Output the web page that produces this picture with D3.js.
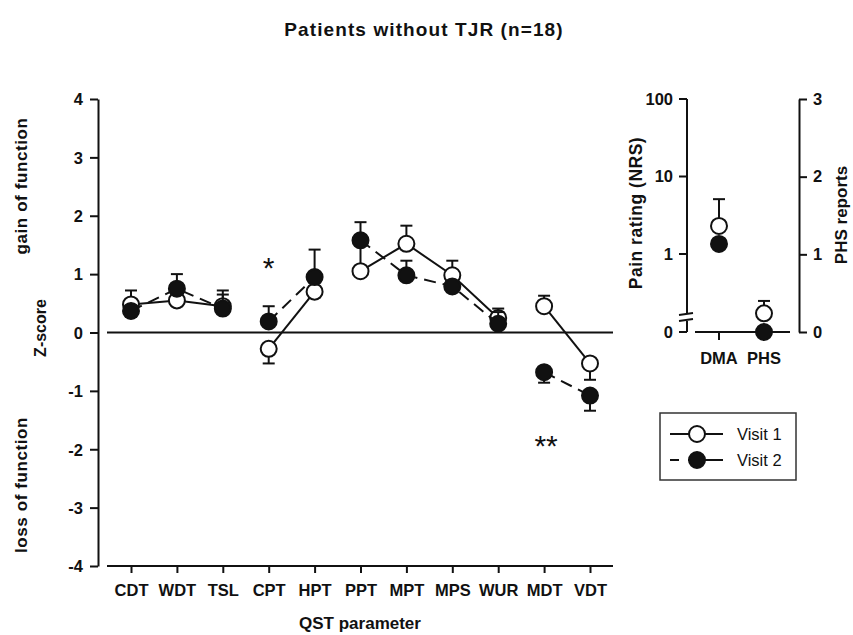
<!DOCTYPE html>
<html>
<head>
<meta charset="utf-8">
<script src="https://cdn.jsdelivr.net/npm/d3@7"></script>
<style>
  body { margin: 0; background: #fff; }
  text { font-family: "Liberation Sans", Arial, sans-serif; font-weight: bold; fill: #111; }
  .axis path, .axis line { stroke: #111; stroke-width: 2; }
  .axis text { font-size: 16.5px; }
</style>
</head>
<body>
<div id="chart"></div>
<script>
// QST z-scores
const categories = ["CDT", "WDT", "TSL", "CPT", "HPT", "PPT", "MPT", "MPS", "WUR", "MDT", "VDT"];
const lineGroup = [0, 0, 0, 1, 1, 2, 2, 2, 2, 3, 3];
const visit1 = [0.48, 0.55, 0.45, -0.28, 0.70, 1.05, 1.52, 0.98, 0.25, 0.45, -0.53];
const visit1Err = [0.24, -0.1, 0.27, -0.25, -0.1, 0.5, 0.31, 0.25, 0.16, 0.18, -0.28];
const visit2 = [0.37, 0.75, 0.41, 0.19, 0.95, 1.58, 0.98, 0.79, 0.15, -0.68, -1.08];
const visit2Err = [-0.1, 0.25, 0.24, 0.26, 0.47, 0.31, 0.25, -0.1, 0.2, -0.18, -0.26];
const zTicks = [4, 3, 2, 1, 0, -1, -2, -3, -4];

// right panel
const sideCats = ["DMA", "PHS"];
const painV1 = 2.3, painV1Err = 2.8, painV2 = 1.35;
const phsV1 = 0.24, phsV1Err = 0.16, phsV2 = 0;
const painTicks = [100, 10, 1];
const phsTicks = [0, 1, 2, 3];

const width = 853, height = 635;
const svg = d3.select("#chart").append("svg")
  .attr("width", width).attr("height", height);

svg.append("text").attr("x", 424).attr("y", 36)
  .attr("text-anchor", "middle").style("font-size", "19px").style("letter-spacing", "1.1px")
  .text("Patients without TJR (n=18)");

const x = d3.scalePoint().domain(categories).range([131, 590]);
const y = d3.scaleLinear().domain([-4, 4]).range([566, 99]);

// y axis
svg.append("g").attr("class", "axis")
  .attr("transform", "translate(98,0)")
  .call(d3.axisLeft(y).tickValues(zTicks).tickFormat(d => String(d))
    .tickSize(8).tickSizeOuter(0).tickPadding(7))
  .call(g => g.selectAll("text").attr("dy", "0.35em"));

// x axis
svg.append("line").attr("x1", 107).attr("x2", 613)
  .attr("y1", y(-4)).attr("y2", y(-4)).attr("stroke", "#111").attr("stroke-width", 2);
svg.append("g").attr("class", "axis")
  .attr("transform", `translate(0,${y(-4)})`)
  .call(d3.axisBottom(x).tickSize(7).tickPadding(11))
  .call(g => g.select(".domain").remove());

// zero line
svg.append("line").attr("x1", 107).attr("x2", 613)
  .attr("y1", y(0)).attr("y2", y(0)).attr("stroke", "#111").attr("stroke-width", 2);

svg.append("text").attr("x", 360).attr("y", 629).attr("text-anchor", "middle")
  .style("font-size", "17px").text("QST parameter");

const yLabel = (txt, cx, cy, size, ls) => svg.append("text")
  .attr("transform", `translate(${cx},${cy}) rotate(-90)`)
  .attr("text-anchor", "middle").style("font-size", size)
  .style("letter-spacing", ls || "0px").text(txt);
yLabel("gain of function", 27, 186, "17px", "0.6px");
yLabel("Z-score", 46, 328, "16px");
yLabel("loss of function", 27, 485, "17px", "0.6px");

function series(vals, errs, dashed) {
  const pts = categories.map((c, i) => ({ c, v: vals[i], e: errs[i], g: lineGroup[i] }));
  const g = svg.append("g");
  const line = d3.line().x(d => x(d.c)).y(d => y(d.v));
  d3.groups(pts, d => d.g).forEach(([, arr]) => {
    g.append("path").datum(arr).attr("d", line).attr("fill", "none")
      .attr("stroke", "#111").attr("stroke-width", 2)
      .attr("stroke-dasharray", dashed ? "12,7" : null);
  });
  g.selectAll(".eb").data(pts).join("line")
    .attr("x1", d => x(d.c)).attr("x2", d => x(d.c))
    .attr("y1", d => y(d.v)).attr("y2", d => y(d.v + d.e))
    .attr("stroke", "#111").attr("stroke-width", 2);
  g.selectAll(".cap").data(pts).join("line")
    .attr("x1", d => x(d.c) - 6).attr("x2", d => x(d.c) + 6)
    .attr("y1", d => y(d.v + d.e)).attr("y2", d => y(d.v + d.e))
    .attr("stroke", "#111").attr("stroke-width", 2);
  return { g, pts };
}
const s1 = series(visit1, visit1Err, false);
const s2 = series(visit2, visit2Err, true);
s1.g.selectAll("circle").data(s1.pts).join("circle")
  .attr("cx", d => x(d.c)).attr("cy", d => y(d.v)).attr("r", 8)
  .attr("fill", "#fff").attr("stroke", "#111").attr("stroke-width", 2);
s2.g.selectAll("circle").data(s2.pts).join("circle")
  .attr("cx", d => x(d.c)).attr("cy", d => y(d.v)).attr("r", 8)
  .attr("fill", "#111").attr("stroke", "#111").attr("stroke-width", 2);

// significance marks
svg.append("text").attr("x", x("CPT")).attr("y", 278).attr("text-anchor", "middle")
  .style("font-size", "30px").style("font-weight", "normal").text("*");
svg.append("text").attr("x", x("MDT") + 2).attr("y", 456).attr("text-anchor", "middle")
  .style("font-size", "30px").style("font-weight", "normal").text("**");

// ---- right panel ----
const xs = d3.scalePoint().domain(sideCats).range([719, 764]);
const yPain = d3.scaleLog().domain([1, 100]).range([254, 99]);
const yPhs = d3.scaleLinear().domain([0, 3]).range([332, 99]);
const axL = 687, axR = 799;

svg.append("line").attr("x1", axL).attr("x2", axL).attr("y1", 99).attr("y2", 314)
  .attr("stroke", "#111").attr("stroke-width", 2);
svg.append("line").attr("x1", axL).attr("x2", axL).attr("y1", 321).attr("y2", 332)
  .attr("stroke", "#111").attr("stroke-width", 2);
[314, 320].forEach(yy => svg.append("line")
  .attr("x1", axL - 8).attr("x2", axL + 6).attr("y1", yy + 1).attr("y2", yy - 1)
  .attr("stroke", "#111").attr("stroke-width", 2));
const painAxis = svg.append("g").attr("class", "axis");
painTicks.concat([0]).forEach(t => {
  const yy = t === 0 ? 332 : yPain(t);
  painAxis.append("line").attr("x1", axL - 8).attr("x2", axL).attr("y1", yy).attr("y2", yy);
  painAxis.append("text").attr("x", axL - 14).attr("y", yy).attr("dy", "0.35em")
    .attr("text-anchor", "end").text(t);
});

svg.append("g").attr("class", "axis")
  .attr("transform", `translate(${axR},0)`)
  .call(d3.axisRight(yPhs).tickValues(phsTicks).tickFormat(d => String(d))
    .tickSize(8).tickSizeOuter(0).tickPadding(6));

svg.append("line").attr("x1", 695).attr("x2", 790).attr("y1", 332).attr("y2", 332)
  .attr("stroke", "#111").attr("stroke-width", 2);
svg.append("line").attr("x1", xs("DMA")).attr("x2", xs("DMA")).attr("y1", 332).attr("y2", 340)
  .attr("stroke", "#111").attr("stroke-width", 2);
sideCats.forEach(c => svg.append("text").attr("x", xs(c)).attr("y", 364)
  .attr("text-anchor", "middle").style("font-size", "16.5px").text(c));

yLabel("Pain rating (NRS)", 642, 213, "17.5px", "0.5px");
yLabel("PHS reports", 847, 215, "17px");

const side = [
  { c: "DMA", y: yPain(painV1), ey: yPain(painV1 + painV1Err), fill: "#fff" },
  { c: "DMA", y: yPain(painV2), ey: null, fill: "#111" },
  { c: "PHS", y: yPhs(phsV1), ey: yPhs(phsV1 + phsV1Err), fill: "#fff" },
  { c: "PHS", y: yPhs(phsV2), ey: null, fill: "#111" }
];
side.filter(d => d.ey !== null).forEach(d => {
  svg.append("line").attr("x1", xs(d.c)).attr("x2", xs(d.c)).attr("y1", d.y).attr("y2", d.ey)
    .attr("stroke", "#111").attr("stroke-width", 2);
  svg.append("line").attr("x1", xs(d.c) - 6).attr("x2", xs(d.c) + 6).attr("y1", d.ey).attr("y2", d.ey)
    .attr("stroke", "#111").attr("stroke-width", 2);
});
[side[1], side[0], side[3], side[2]].forEach(d => svg.append("circle")
  .attr("cx", xs(d.c)).attr("cy", d.y).attr("r", 8)
  .attr("fill", d.fill).attr("stroke", "#111").attr("stroke-width", 2));

// legend
const lg = svg.append("g");
lg.append("rect").attr("x", 660).attr("y", 413).attr("width", 136).attr("height", 67)
  .attr("fill", "#fff").attr("stroke", "#333").attr("stroke-width", 1.5);
[["Visit 1", "#fff", null, 434], ["Visit 2", "#111", "9,9,35", 460]].forEach(([t, f, dash, yy]) => {
  lg.append("line").attr("x1", 670).attr("x2", 723).attr("y1", yy).attr("y2", yy)
    .attr("stroke", "#111").attr("stroke-width", 2).attr("stroke-dasharray", dash);
  lg.append("circle").attr("cx", 697).attr("cy", yy).attr("r", 8)
    .attr("fill", f).attr("stroke", "#111").attr("stroke-width", 2);
  lg.append("text").attr("x", 737).attr("y", yy).attr("dy", "0.35em")
    .style("font-size", "16.5px").style("font-weight", "normal").text(t);
});
</script>
</body>
</html>
